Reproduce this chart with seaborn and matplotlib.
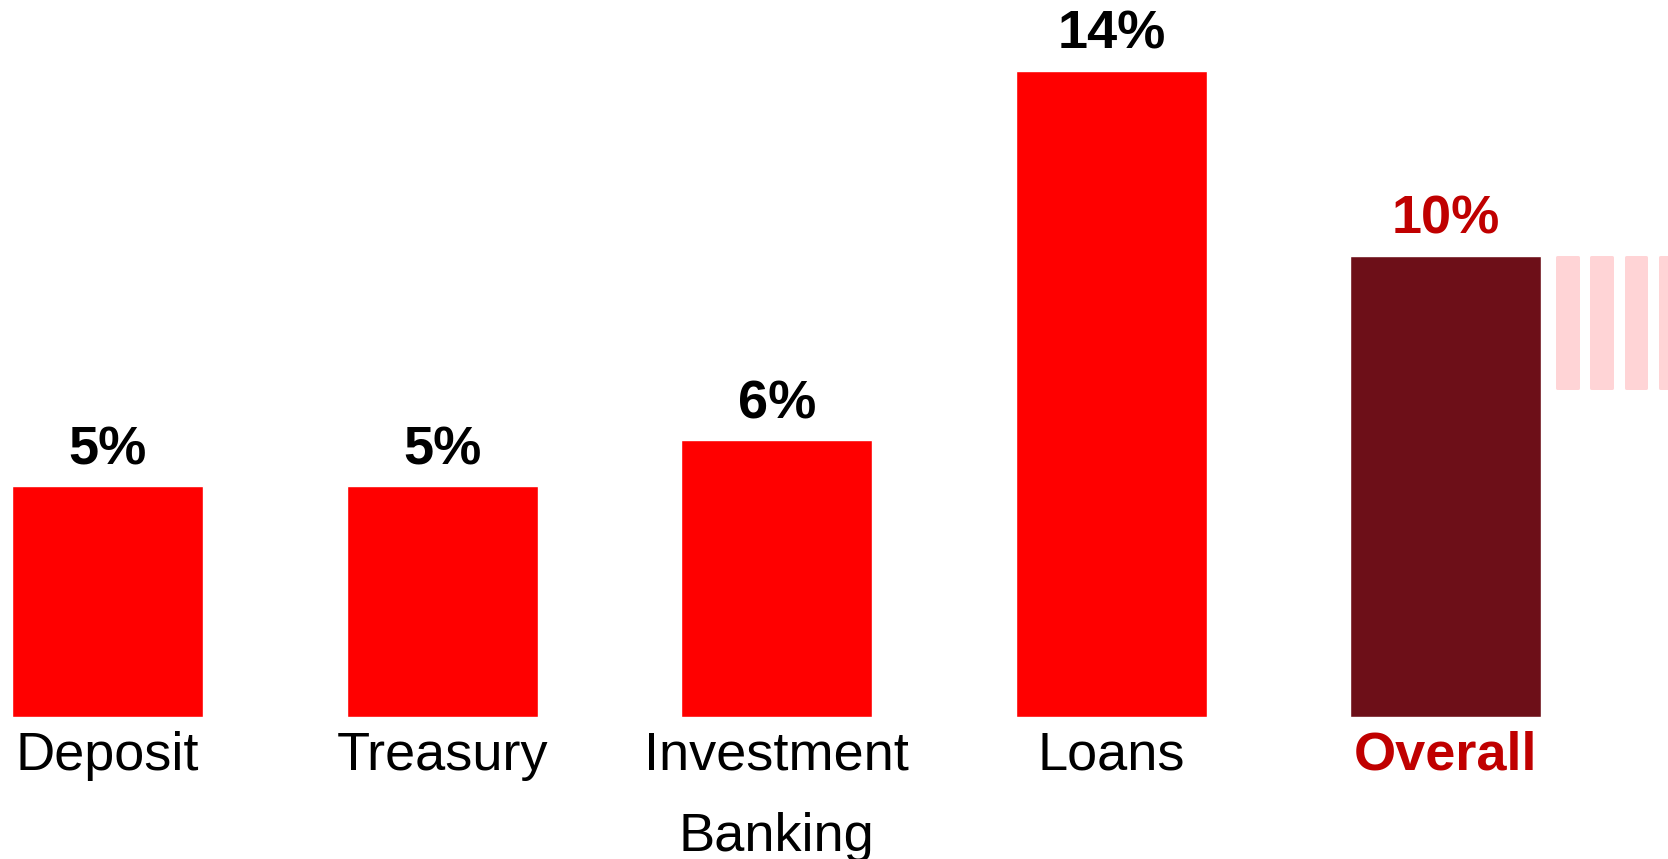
import matplotlib
matplotlib.use("Agg")
import matplotlib.pyplot as plt
import seaborn as sns
import pandas as pd

categories = ["Deposit", "Treasury", "Investment\nBanking", "Loans", "Overall"]
values = [5, 5, 6, 14, 10]
value_labels = ["5%", "5%", "6%", "14%", "10%"]
stripe_top = 10.0
stripe_bottom = 7.1
n_stripes = 4

bar_colors = ["#FF0000", "#FF0000", "#FF0000", "#FF0000", "#6D0F18"]
label_colors = ["black", "black", "black", "black", "#C00000"]
label_weights = ["normal", "normal", "normal", "normal", "bold"]
stripe_color = "#FFD4D6"

sns.set_theme(style="white")
plt.rcParams["font.family"] = ["Liberation Sans", "DejaVu Sans"]

W, H = 1668, 859
fig = plt.figure(figsize=(W / 100, H / 100), dpi=100)
base_px = 142
ax = fig.add_axes([0, base_px / H, 1, 1 - base_px / H])

df = pd.DataFrame({"cat": categories, "val": values})
sns.barplot(data=df, x="cat", y="val", hue="cat", palette=bar_colors,
            width=0.571, legend=False, ax=ax, saturation=1)

px_per_unit = 646 / 14.0
ax.set_ylim(0, (H - base_px) / px_per_unit)
ax.set_xlim(-0.3213, 4.664)

# value labels
for cont, lab, col in zip(ax.containers, value_labels, label_colors):
    ax.bar_label(cont, labels=[lab], padding=8, fontsize=39, fontweight="bold",
                 color=col)

# decorative stripes to the right of the Overall bar
step = 0.1028
start = len(categories) - 1 + 0.3627
lw_px = 3
xs = [start + i * step for i in range(n_stripes)]
ax.bar(xs, [stripe_top - stripe_bottom - lw_px / px_per_unit] * n_stripes,
       bottom=stripe_bottom + lw_px / 2 / px_per_unit,
       width=(23.7 - lw_px) / 334.6, color=stripe_color,
       edgecolor=stripe_color, linewidth=lw_px * 0.72, joinstyle="round",
       clip_on=False)

ax.set_xlabel("")
ax.set_ylabel("")
ax.set_yticks([])
ax.tick_params(axis="x", length=0, pad=10)
ax.set_xticks(range(len(categories)))
ax.set_xticklabels(categories, fontsize=39, linespacing=1.79)
for t, col, w in zip(ax.get_xticklabels(), label_colors, label_weights):
    t.set_color(col)
    t.set_fontweight(w)
for s in ax.spines.values():
    s.set_visible(False)

fig.savefig("out.png", dpi=100)
